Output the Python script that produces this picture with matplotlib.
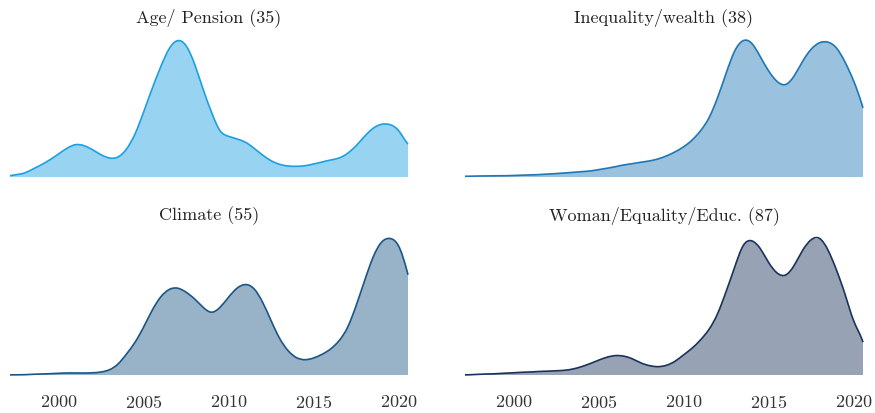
import numpy as np
import matplotlib
matplotlib.use("Agg")
import matplotlib.pyplot as plt
from matplotlib.path import Path
from matplotlib.patches import PathPatch

plt.rcParams['font.family'] = 'serif'
plt.rcParams['font.serif'] = ['cmr10', 'DejaVu Serif']
plt.rcParams['axes.formatter.use_mathtext'] = True
plt.rcParams['font.size'] = 13

# sampling grid (years) at which the density curves were read
years = np.concatenate([[1997.15], np.arange(1997.5, 2020.51, 0.5), [2020.55]])

titles = ["Age/ Pension (35)", "Inequality/wealth (38)",
          "Climate (55)", "Woman/Equality/Educ. (87)"]

age_pension = [1.3, 2.3, 4.0, 8.0, 12.3, 17.3, 23.0, 28.7, 32.3, 31.3, 27.3, 22.3,
               19.0, 20.0, 28.0, 43.0, 64.7, 88.0, 109.7, 128.0, 136.3, 131.3, 113.0, 88.0,
               64.7, 46.3, 40.7, 38.0, 34.7, 28.7, 22.0, 16.3, 12.7, 11.0, 10.7, 11.3,
               13.0, 15.0, 17.0, 19.0, 23.7, 31.3, 40.7, 48.7, 52.7, 52.3, 46.3, 34.0, 33.0]

inequality = [0.7, 0.8, 1.0, 1.1, 1.2, 1.3, 1.5, 1.8, 2.1, 2.4, 2.9, 3.4,
              4.0, 4.6, 5.3, 6.0, 7.3, 8.7, 10.3, 12.0, 13.3, 14.7, 16.0, 18.0,
              21.0, 25.0, 30.0, 36.7, 46.0, 59.0, 79.0, 103.0, 125.0, 135.5, 133.0, 120.0,
              105.5, 95.0, 92.0, 100.5, 115.0, 127.0, 133.5, 134.0, 128.0, 114.0, 95.5, 71.5, 68.7]

climate = [0.1, 0.2, 0.3, 0.7, 1.0, 1.3, 1.7, 2.0, 2.0, 2.0, 2.2, 3.0,
           5.3, 11.0, 21.0, 32.7, 47.7, 64.3, 77.7, 85.3, 86.7, 82.7, 76.0, 67.7,
           62.7, 67.7, 77.7, 86.7, 90.3, 86.0, 72.7, 54.3, 36.7, 24.3, 17.3, 15.3,
           17.0, 20.7, 26.0, 34.3, 47.7, 69.3, 94.3, 117.7, 132.7, 136.3, 128.7, 103.3, 100.0]

woman = [0.1, 0.3, 0.7, 1.0, 1.3, 1.8, 2.2, 2.7, 3.0, 3.5, 3.8, 4.2,
         4.7, 6.0, 8.3, 11.3, 14.7, 17.7, 19.3, 18.7, 16.0, 12.0, 9.3, 8.3,
         9.7, 13.7, 20.0, 26.7, 35.0, 45.5, 61.0, 83.0, 107.0, 128.5, 133.5, 126.0,
         112.0, 101.5, 99.5, 109.0, 124.0, 134.5, 135.8, 124.0, 104.0, 80.0, 54.0, 35.0, 32.7]

series = [age_pension, inequality, climate, woman]
colors = ["#1ba1e2", "#1f77b4", "#1b5687", "#1a335b"]


def spline_slopes(x, y):
    """Slopes of the natural cubic spline through the read points."""
    n = len(x)
    h = np.diff(x)
    A = np.zeros((n, n))
    b = np.zeros(n)
    A[0, 0] = A[-1, -1] = 1.0
    for i in range(1, n - 1):
        A[i, i - 1] = h[i - 1]
        A[i, i] = 2 * (h[i - 1] + h[i])
        A[i, i + 1] = h[i]
        b[i] = 6 * ((y[i + 1] - y[i]) / h[i] - (y[i] - y[i - 1]) / h[i - 1])
    M = np.linalg.solve(A, b)
    m = np.empty(n)
    m[:-1] = (y[1:] - y[:-1]) / h - h * (2 * M[:-1] + M[1:]) / 6
    m[-1] = (y[-1] - y[-2]) / h[-1] + h[-1] * (M[-2] + 2 * M[-1]) / 6
    return m


def smooth_path(x, y):
    """Cubic Bezier path through the read points."""
    x = np.asarray(x, float)
    y = np.asarray(y, float)
    m = spline_slopes(x, y)
    verts = [(x[0], y[0])]
    codes = [Path.MOVETO]
    for i in range(len(x) - 1):
        dx = x[i + 1] - x[i]
        verts += [(x[i] + dx / 3, y[i] + m[i] * dx / 3),
                  (x[i + 1] - dx / 3, y[i + 1] - m[i + 1] * dx / 3),
                  (x[i + 1], y[i + 1])]
        codes += [Path.CURVE4] * 3
    return verts, codes


fig = plt.figure(figsize=(8.75, 4.14), dpi=100)
W, H = 875, 414
boxes = [(10, 408, 41.7, 178), (465, 863, 41.7, 178),
         (10, 408, 239.5, 376), (465, 863, 239.5, 376)]

for i, (vals, title, col, box) in enumerate(zip(series, titles, colors, boxes)):
    x0, x1, ytop, ybot = box
    ax = fig.add_axes([x0 / W, 1 - ybot / H, (x1 - x0) / W, (ybot - ytop) / H])
    v = np.array(vals)
    verts, codes = smooth_path(years, v)
    fverts = verts + [(years[-1], 0), (years[0], 0), verts[0]]
    fcodes = codes + [Path.LINETO, Path.LINETO, Path.CLOSEPOLY]
    ax.add_patch(PathPatch(Path(fverts, fcodes), facecolor=col, alpha=0.45,
                           edgecolor='none', lw=0))
    ax.add_patch(PathPatch(Path(verts, codes), facecolor='none', edgecolor=col,
                           lw=1.2, clip_on=False))
    ax.set_xlim(years[0], years[-1])
    ax.set_ylim(0, v.max())
    ax.set_yticks([])
    for s in ax.spines.values():
        s.set_visible(False)
    ax.set_title(title, pad=14, color="#222222", fontsize=13)
    ax.set_xticks([2000, 2005, 2010, 2015, 2020])
    ax.tick_params(axis='x', length=0, pad=13, labelsize=13, colors="#333333")
    if i < 2:
        ax.set_xticklabels([])
    ax.set_facecolor('none')

fig.savefig("out.png", dpi=100)
